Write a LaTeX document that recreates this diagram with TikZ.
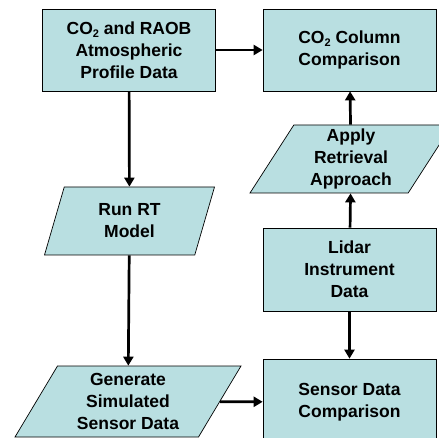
\documentclass[tikz,border=0pt]{standalone}
\usepackage{fontspec}
\setmainfont{Liberation Sans}
\usepackage{xcolor,tikz}
\usetikzlibrary{arrows.meta,shapes.geometric}
\definecolor{boxfill}{HTML}{B9DFE1}

\begin{document}
\begin{tikzpicture}[x=1pt,y=-1pt,
 box/.style={rectangle,draw=black,line width=0.7pt,fill=boxfill,minimum width=173pt,minimum height=82pt,inner sep=0pt,align=center},
 para/.style={trapezium,draw=black,line width=0.7pt,fill=boxfill,trapezium stretches body,minimum height=68pt,inner sep=0pt,align=center},
 arr/.style={line width=2.7pt,-{Triangle[length=9pt,width=10pt]}},
 font=\fontsize{17.5}{22}\selectfont\bfseries]
 \useasboundingbox (0,0) rectangle (439,438);
 \node[box] (profile) at (129,50) {CO\raisebox{-0.35ex}{\fontsize{11}{11}\selectfont 2} and RAOB\\Atmospheric\\Profile Data};
 \node[box] (column) at (349.5,50) {CO\raisebox{-0.35ex}{\fontsize{11}{11}\selectfont 2} Column\\Comparison};
 \node[para,trapezium left angle=54,trapezium right angle=126,minimum width=202pt] (apply) at (351,159) {Apply\\Retrieval\\Approach};
 \node[para,trapezium left angle=60,trapezium right angle=120,minimum width=170pt] (runrt) at (129.5,221) {Run RT\\Model};
 \node[box,minimum height=83pt] (lidar) at (349.5,269.5) {Lidar\\Instrument\\Data};
 \node[para,trapezium left angle=53,trapezium right angle=127,minimum width=226pt,minimum height=71pt] (generate) at (128,401.5) {Generate\\Simulated\\Sensor Data};
 \node[box,minimum height=86pt] (sensor) at (349.5,402) {Sensor Data\\Comparison};
 \draw[arr] (profile) -- (column);
 \draw[arr] (profile) -- (runrt);
 \draw[arr] (runrt) -- (generate);
 \draw[arr] (generate) -- (sensor);
 \draw[arr] (lidar) -- (apply);
 \draw[arr] (apply) -- (column);
 \draw[arr] (lidar) -- (sensor);
\end{tikzpicture}
\end{document}
